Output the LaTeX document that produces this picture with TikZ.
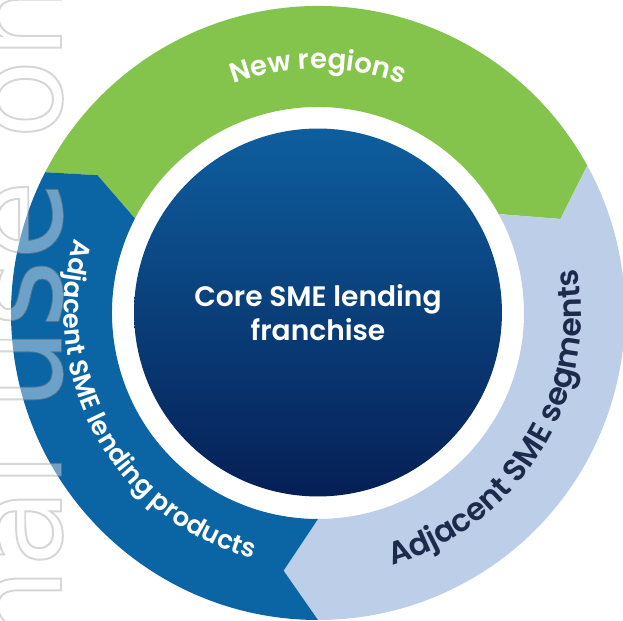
\documentclass[tikz,border=0pt]{standalone}
\usepackage{fontspec}
\usepackage{tikz}
\usetikzlibrary{decorations.text}
\IfFontExistsTF{Poppins SemiBold}{\newfontfamily\ringfont{Poppins SemiBold}}{\newfontfamily\poppins{Poppins}\newcommand{\ringfont}{\poppins\bfseries}}
\newfontfamily\markfont{DejaVu Sans}
\definecolor{ring1}{HTML}{84C44C}
\definecolor{ring2}{HTML}{BCCEE8}
\definecolor{ring3}{HTML}{0B65A5}
\definecolor{core1}{HTML}{0E5E9E}
\definecolor{core2}{HTML}{061F55}
\definecolor{navy}{HTML}{1D2A4B}
\tikzset{core/.style={circle,minimum size=7.36cm,inner sep=0pt,top color=core1,bottom color=core2,
    text=white,align=center,font=\ringfont\fontsize{16}{19}\selectfont},
  stamp/.style={rotate=90,anchor=base west,inner sep=0pt,opacity=0.4,text=white,
    font=\markfont\fontsize{74}{74}\selectfont}}
% colour, from, to, tip, notch
\newcommand{\ringpart}[5]{\fill[#1] (#2:307) arc[start angle=#2,end angle=#3,radius=307] -- (#4:260)
  -- (#3:206) arc[start angle=#3,end angle=#2,radius=206] -- (#5:260) -- cycle;}
\newcommand{\outlined}[1]{\special{pdf:literal direct 2 Tr 1.1 w 0.6 0.6 0.6 RG}#1\special{pdf:literal direct 0 Tr}}
\begin{document}
\begin{tikzpicture}[x=0.02cm,y=0.02cm]
\fill[white] (-318,-308) rectangle (305,313);
\useasboundingbox (-318,-308) rectangle (305,313);
\ringpart{ring1}{152.7}{28.7}{21.2}{148}
\ringpart{ring2}{28.7}{-90}{-97.6}{21.2}
\ringpart{ring3}{-90}{-207.3}{-212}{-97.6}
\node[core] (core) at (0,0.5) {Core SME lending\\franchise};
\path[decorate,decoration={text along path,text align=center,
    text={|\ringfont\fontsize{15.7}{18}\selectfont\color{white}|New regions}}]
  (135:244) arc[start angle=135,end angle=45,radius=244];
\path[decorate,decoration={text along path,text align=center,
    text={|\ringfont\fontsize{17.8}{21}\selectfont\color{navy}|Adjacent SME segments}}]
  (-110:263) arc[start angle=-110,end angle=46,radius=263];
\path[decorate,decoration={text along path,text align=center,
    text={|\ringfont\fontsize{14.7}{17}\selectfont\color{white}|Adjacent SME lending products}}]
  (140:254) arc[start angle=140,end angle=278,radius=254];
\node[stamp] (mark) at (-257,-945) {\outlined{For personal use only}};
\end{tikzpicture}
\end{document}
